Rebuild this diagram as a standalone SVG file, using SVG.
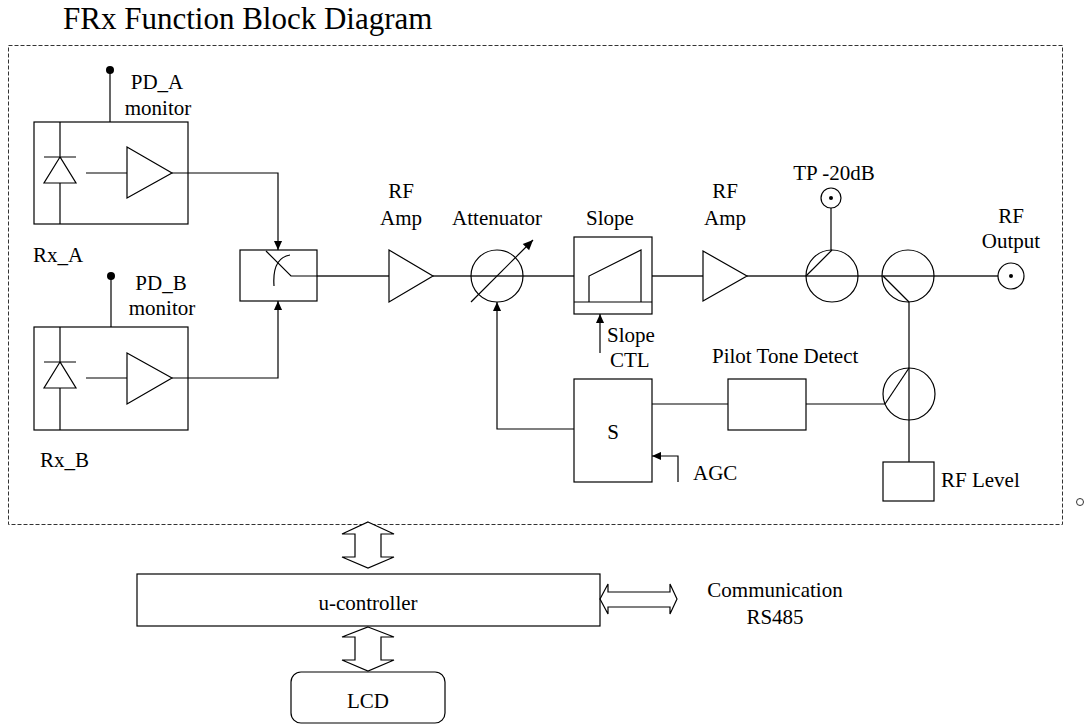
<svg xmlns="http://www.w3.org/2000/svg" width="1084" height="725" viewBox="0 0 1084 725">
<defs>
<style>
text{font-family:"Liberation Serif","Times New Roman",serif;font-size:21px;fill:#000}
.t{font-size:31px}
.m{text-anchor:middle}
.s{fill:none;stroke:#000;stroke-width:1.2}
.f{fill:#fff;stroke:#000;stroke-width:1.2}
.w{fill:none;stroke:#222;stroke-width:1.4}
.d{fill:none;stroke:#333;stroke-width:1;stroke-dasharray:4 2}
</style>
<marker id="ah" viewBox="0 0 10 10" refX="10" refY="5" markerWidth="10" markerHeight="9" markerUnits="userSpaceOnUse" orient="auto"><path d="M0,0.5 L10,5 L0,9.5 z" fill="#000"/></marker>
<marker id="ah2" viewBox="0 0 10 10" refX="10" refY="5" markerWidth="13" markerHeight="10" markerUnits="userSpaceOnUse" orient="auto"><path d="M0,0.5 L10,5 L0,9.5 z" fill="#000"/></marker>
</defs>
<rect width="1084" height="725" fill="#fff"/>
<text class="t" x="63" y="29">FRx Function Block Diagram</text>
<rect class="d" x="8.5" y="45.5" width="1054" height="479"/>
<circle cx="1080" cy="502" r="3.5" fill="none" stroke="#333" stroke-width="1"/>

<g id="connectors">
<path class="s" d="M110,70 V122"/>
<circle cx="110" cy="70" r="4" fill="#000"/>
<path class="s" d="M111,276 V327"/>
<circle cx="111" cy="276" r="4" fill="#000"/>
<path class="s" d="M172,173 H278 V250" marker-end="url(#ah)"/>
<path class="s" d="M172,378 H278 V301" marker-end="url(#ah)"/>
<path class="w" d="M317,276 H389"/>
<path class="w" d="M433,276 H574"/>
<path class="w" d="M652,276 H703"/>
<path class="w" d="M747,276 H998"/>
<path class="s" d="M831,208 V250"/>
<path class="w" d="M909,302 V462"/>
<path class="s" d="M806,404 H885"/>
<path class="s" d="M652,404 H728"/>
<path class="s" d="M574,429 H497 V302" marker-end="url(#ah)"/>
<path class="s" d="M600,353 V314" marker-end="url(#ah)"/>
<path class="s" d="M678,482 V456 H652" marker-end="url(#ah)"/>
<path class="f" d="M368,522 L394,534 H381 V557 H394 L368,568 L342,557 H355 V534 H342 Z"/>
<path class="f" d="M368,627 L394,637 H381 V660 H394 L368,671 L342,660 H355 V637 H342 Z"/>
<path class="f" d="M600,599 L608,584 V592 H670 V584 L677,599 L670,614 V607 H608 V614 Z"/>
</g>

<g id="rx_a">
<rect class="s" x="34" y="122" width="154" height="102"/>
<path class="s" d="M60,122 V157 M44,157 H76 M60,157 L44,183 H76 Z M60,183 V224 M86,173 H127 M127,147 L172,173 L127,198 Z"/>
<text class="m" x="157" y="89">PD_A</text>
<text class="m" x="158" y="115">monitor</text>
<text x="33" y="262">Rx_A</text>
</g>

<g id="rx_b">
<rect class="s" x="34" y="327" width="154" height="103"/>
<path class="s" d="M60,327 V362 M44,362 H76 M60,362 L44,388 H76 Z M60,388 V430 M86,378 H127 M127,353 L172,378 L127,404 Z"/>
<text class="m" x="161" y="290">PD_B</text>
<text class="m" x="162" y="315">monitor</text>
<text x="40" y="467">Rx_B</text>
</g>

<g id="switch">
<rect class="s" x="240" y="250" width="77" height="51"/>
<path class="s" d="M266,251 L291,276 H317 M290,255 Q272,258 274,286"/>
</g>

<g id="rf_amp1">
<path class="s" d="M389,250 L433,276 L389,302 Z"/>
<text class="m" x="401" y="198">RF</text>
<text class="m" x="401" y="225">Amp</text>
</g>

<g id="attenuator">
<circle class="s" cx="497" cy="276" r="26"/>
<path class="s" d="M471,302 L533,240" marker-end="url(#ah2)"/>
<text class="m" x="497" y="225">Attenuator</text>
</g>

<g id="slope">
<rect class="s" x="574" y="237" width="78" height="77"/>
<path class="s" d="M574,302 H652 M589,302 V276 L641,250 V302"/>
<text class="m" x="610" y="225">Slope</text>
<text x="607" y="342">Slope</text>
<text x="610" y="367">CTL</text>
</g>

<g id="rf_amp2">
<path class="s" d="M703,251 L747,276 L703,301 Z"/>
<text class="m" x="725" y="198">RF</text>
<text class="m" x="725" y="225">Amp</text>
</g>

<g id="tp_coupler">
<circle class="s" cx="832" cy="276" r="26"/>
<path class="s" d="M806,276 L832,250"/>
<circle class="s" cx="831" cy="198" r="10"/>
<circle cx="831" cy="198" r="2" fill="#000"/>
<text class="m" x="834" y="180">TP -20dB</text>
</g>

<g id="coupler2">
<circle class="s" cx="908" cy="276" r="26"/>
<path class="s" d="M883,276 L909,302"/>
</g>

<g id="rf_output">
<circle class="s" cx="1011" cy="276" r="13"/>
<circle cx="1011" cy="276" r="2" fill="#000"/>
<text class="m" x="1011" y="223">RF</text>
<text class="m" x="1011" y="248">Output</text>
</g>

<g id="coupler3">
<circle class="s" cx="909" cy="394" r="26"/>
<path class="s" d="M885,404 L909,368"/>
</g>

<g id="rf_level">
<rect class="s" x="883" y="462" width="51" height="39"/>
<text x="941" y="487">RF Level</text>
</g>

<g id="pilot_tone">
<rect class="s" x="728" y="379" width="78" height="51"/>
<text x="712" y="363">Pilot Tone Detect</text>
</g>

<g id="s_block">
<rect class="s" x="574" y="379" width="78" height="103"/>
<text class="m" x="613" y="439">S</text>
<text x="693" y="480">AGC</text>
</g>

<g id="u_controller">
<rect class="s" x="137" y="574" width="463" height="52"/>
<text class="m" x="368" y="610">u-controller</text>
</g>

<g id="lcd">
<rect class="s" x="291" y="672" width="154" height="51" rx="10"/>
<text class="m" x="368" y="708">LCD</text>
</g>

<g id="comm">
<text class="m" x="775" y="597">Communication</text>
<text class="m" x="775" y="624">RS485</text>
</g>
</svg>
